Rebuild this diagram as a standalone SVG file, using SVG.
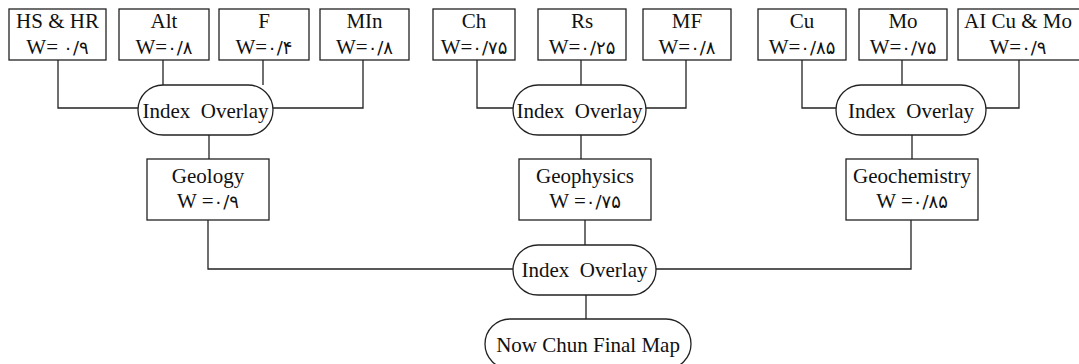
<svg xmlns="http://www.w3.org/2000/svg" width="1079" height="364" viewBox="0 0 1079 364">
<style>
.box{fill:#fff;stroke:#222;stroke-width:1.3}
.con{fill:none;stroke:#222;stroke-width:1.3}
text{font-family:"Liberation Serif","DejaVu Serif","DejaVu Sans",serif;font-size:21px;fill:#111;text-anchor:middle}
.d{font-family:"DejaVu Sans","Noto Sans",sans-serif;font-size:18px}
</style>
<rect width="1079" height="364" fill="#fff"/>
<g id="connectors">
<path class="con" d="M58 60V108H138"/>
<path class="con" d="M163 60V85"/>
<path class="con" d="M263 60V85"/>
<path class="con" d="M363 60V108H273"/>
<path class="con" d="M209 135V159"/>
<path class="con" d="M477 60V108H513"/>
<path class="con" d="M581 60V85"/>
<path class="con" d="M686 60V108H646"/>
<path class="con" d="M581 135V159"/>
<path class="con" d="M802 60V108H836"/>
<path class="con" d="M902 60V85"/>
<path class="con" d="M1019 60V108H986"/>
<path class="con" d="M912 135V159"/>
<path class="con" d="M208 220V269H513"/>
<path class="con" d="M585 220V245"/>
<path class="con" d="M911 220V269H656"/>
<path class="con" d="M586 295V319"/>
</g>
<g id="hshr"><rect class="box" x="9" y="9" width="97" height="51"/><text x="57.5" y="28">HS &amp; HR</text><text x="57.5" y="54">W= <tspan class="d">۰/۹</tspan></text></g>
<g id="alt"><rect class="box" x="119" y="9" width="90" height="51"/><text x="164" y="28">Alt</text><text x="164" y="54">W=<tspan class="d">۰/۸</tspan></text></g>
<g id="f"><rect class="box" x="219" y="9" width="90" height="51"/><text x="264" y="28">F</text><text x="264" y="54">W=<tspan class="d">۰/۴</tspan></text></g>
<g id="min"><rect class="box" x="320" y="9" width="89" height="51"/><text x="364.5" y="28">MIn</text><text x="364.5" y="54">W=<tspan class="d">۰/۸</tspan></text></g>
<g id="ch"><rect class="box" x="433" y="9" width="82" height="51"/><text x="474" y="28">Ch</text><text x="474" y="54">W=<tspan class="d">۰/۷۵</tspan></text></g>
<g id="rs"><rect class="box" x="538" y="9" width="88" height="51"/><text x="582" y="28">Rs</text><text x="582" y="54">W=<tspan class="d">۰/۲۵</tspan></text></g>
<g id="mf"><rect class="box" x="643" y="9" width="88" height="51"/><text x="687" y="28">MF</text><text x="687" y="54">W=<tspan class="d">۰/۸</tspan></text></g>
<g id="cu"><rect class="box" x="758" y="9" width="88" height="51"/><text x="802" y="28">Cu</text><text x="802" y="54">W=<tspan class="d">۰/۸۵</tspan></text></g>
<g id="mo"><rect class="box" x="859" y="9" width="88" height="51"/><text x="903" y="28">Mo</text><text x="903" y="54">W=<tspan class="d">۰/۷۵</tspan></text></g>
<g id="aicumo"><rect class="box" x="958" y="9" width="124" height="51"/><text x="1018" y="28">AI Cu &amp; Mo</text><text x="1018" y="54">W=<tspan class="d">۰/۹</tspan></text></g>
<g id="overlay1"><rect class="box" x="138" y="85" width="135" height="50" rx="25"/><text x="205.5" y="118" xml:space="preserve">Index  Overlay</text></g>
<g id="overlay2"><rect class="box" x="513" y="85" width="133" height="50" rx="25"/><text x="579.5" y="118" xml:space="preserve">Index  Overlay</text></g>
<g id="overlay3"><rect class="box" x="836" y="85" width="150" height="50" rx="25"/><text x="911" y="118" xml:space="preserve">Index  Overlay</text></g>
<g id="geology"><rect class="box" x="147" y="159" width="122" height="61"/><text x="208" y="183">Geology</text><text x="208" y="208">W =<tspan class="d">۰/۹</tspan></text></g>
<g id="geophysics"><rect class="box" x="519" y="159" width="132" height="61"/><text x="585" y="183">Geophysics</text><text x="585" y="208">W =<tspan class="d">۰/۷۵</tspan></text></g>
<g id="geochemistry"><rect class="box" x="846" y="159" width="132" height="61"/><text x="912" y="183">Geochemistry</text><text x="912" y="208">W =<tspan class="d">۰/۸۵</tspan></text></g>
<g id="overlay4"><rect class="box" x="513" y="245" width="143" height="50" rx="25"/><text x="584.5" y="277" xml:space="preserve">Index  Overlay</text></g>
<g id="final"><rect class="box" x="485" y="319" width="206" height="50" rx="25"/><text x="588" y="352">Now Chun Final Map</text></g>
</svg>
